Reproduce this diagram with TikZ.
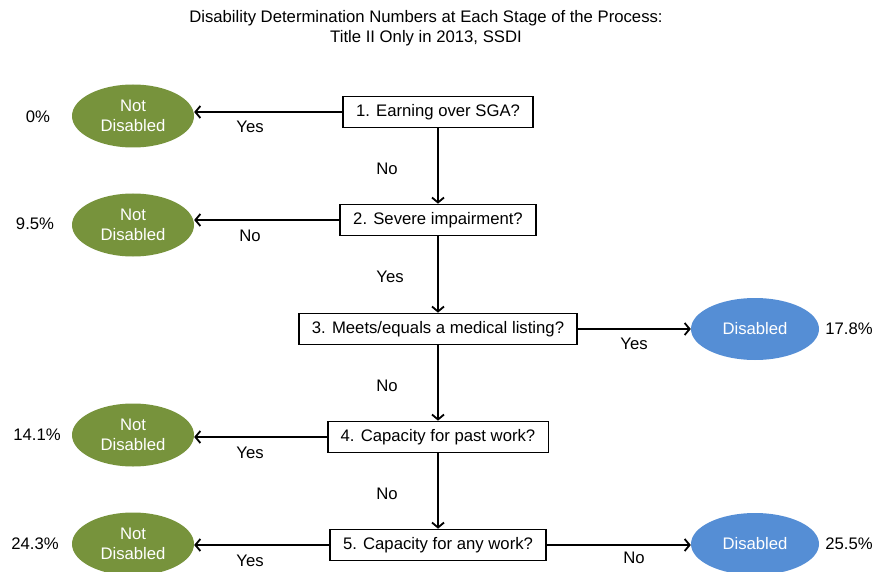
\documentclass[tikz,border=0pt]{standalone}
\usepackage{fontspec}
\setmainfont{Liberation Sans}
\usetikzlibrary{shapes, shapes.geometric, arrows.meta}

\definecolor{notgreen}{HTML}{77933C}
\definecolor{disblue}{HTML}{558ED5}

\tikzset{
  question/.style={draw, line width=1.6pt, fill=white, minimum height=31pt, inner xsep=13pt},
  notdis/.style={ellipse, fill=notgreen, text=white, minimum width=122pt, minimum height=63pt, align=center, inner sep=0pt},
  dis/.style={ellipse, fill=disblue, text=white, minimum width=128pt, minimum height=62pt, inner sep=0pt},
  flow/.style={-{Straight Barb[length=5pt,width=12pt,line width=1.8pt]}, line width=1.8pt},
}

\begin{document}
\begin{tikzpicture}[x=1pt, y=-1pt, font=\fontsize{16.7}{20}\selectfont]
\useasboundingbox (0,0) rectangle (875,572);

\node[align=center] (title) at (426,28) {Disability Determination Numbers at Each Stage of the Process:\\
Title II Only in 2013, SSDI};

% steps
\node[question] (q1) at (438,112) {1. Earning over SGA?};
\node[question] (q2) at (438,220) {2. Severe impairment?};
\node[question] (q3) at (438,329) {3. Meets/equals a medical listing?};
\node[question] (q4) at (438,437) {4. Capacity for past work?};
\node[question] (q5) at (438,545) {5. Capacity for any work?};

% outcomes
\node[notdis] (n1) at (133,116) {Not\\Disabled};
\node[notdis] (n2) at (133,225) {Not\\Disabled};
\node[notdis] (n4) at (133,435) {Not\\Disabled};
\node[notdis] (n5) at (133,544) {Not\\Disabled};
\node[dis] (d3) at (755,329) {Disabled};
\node[dis] (d5) at (755,544) {Disabled};

% percentages
\node (p1) at (38,117) {0\%};
\node (p2) at (35,224) {9.5\%};
\node (p3) at (849,329) {17.8\%};
\node (p4) at (37,435) {14.1\%};
\node (p5) at (35,544) {24.3\%};
\node (p6) at (849,544) {25.5\%};

% connectors
\draw[flow] (q1.west) -- (q1.west -| n1.east);
\draw[flow] (q1.south) -- (q2.north);
\draw[flow] (q2.west) -- (q2.west -| n2.east);
\draw[flow] (q2.south) -- (q3.north);
\draw[flow] (q3.east) -- (q3.east -| d3.west);
\draw[flow] (q3.south) -- (q4.north);
\draw[flow] (q4.west) -- (q4.west -| n4.east);
\draw[flow] (q4.south) -- (q5.north);
\draw[flow] (q5.west) -- (q5.west -| n5.east);
\draw[flow] (q5.east) -- (q5.east -| d5.west);

% answers
\node (a1) at (250,127) {Yes};
\node (a2) at (387,169) {No};
\node (a3) at (250,236) {No};
\node (a4) at (390,277) {Yes};
\node (a5) at (634,344) {Yes};
\node (a6) at (387,386) {No};
\node (a7) at (250,453) {Yes};
\node (a8) at (387,494) {No};
\node (a9) at (250,561) {Yes};
\node (a10) at (634,558) {No};
\end{tikzpicture}
\end{document}
